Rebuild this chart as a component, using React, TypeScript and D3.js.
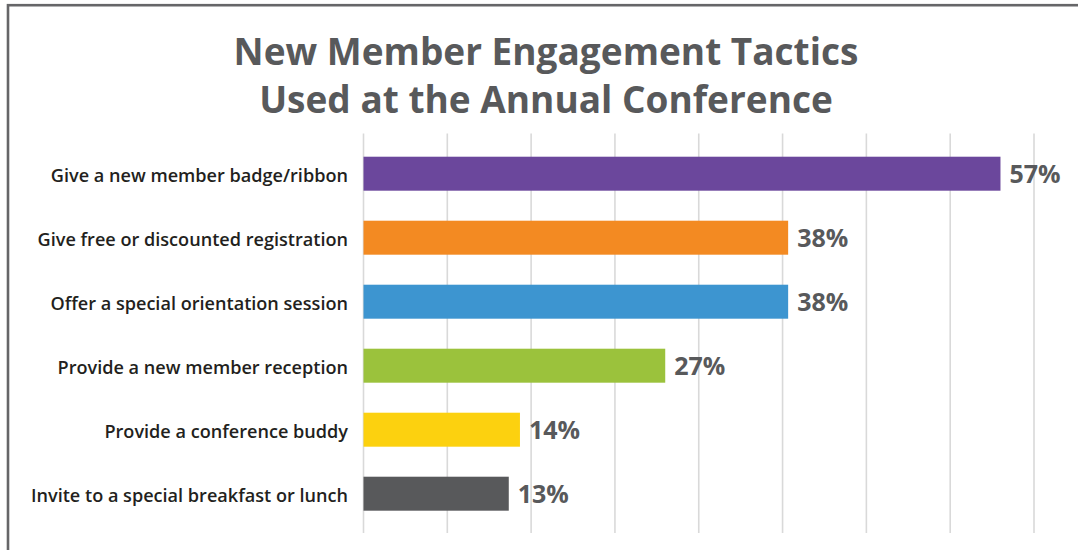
import React from "react";
import * as d3 from "d3";

const categories: string[] = [
  "Give a new member badge/ribbon",
  "Give free or discounted registration",
  "Offer a special orientation session",
  "Provide a new member reception",
  "Provide a conference buddy",
  "Invite to a special breakfast or lunch",
];
const values: number[] = [57, 38, 38, 27, 14, 13];
const barColors: string[] = ["#6b479c", "#f38a22", "#3d95d0", "#9bc23c", "#fcd10f", "#58595b"];
const gridTicks: number[] = [0, 7.5, 15, 22.5, 30, 37.5, 45, 52.5, 60];
const titleLines: string[] = ["New Member Engagement Tactics", "Used at the Annual Conference"];

const W = 1078;
const H = 550;

export default function App() {
  const x = d3.scaleLinear().domain([0, 60]).range([363.5, 1034]);
  const y = d3
    .scaleBand<string>()
    .domain(categories)
    .range([141.7, 525.7])
    .paddingInner(0.469)
    .paddingOuter(0.2345);

  return (
    <svg
      width={W}
      height={H}
      style={{ position: "absolute", left: 0, top: 0, background: "#fff" }}
    >
      <rect x={0} y={0} width={W} height={H} fill="#fff" />
      <rect x={8} y={5.2} width={W + 20} height={H + 20} fill="none" stroke="#666668" strokeWidth={2.6} />
      {titleLines.map((t, i) => (
        <text
          key={t}
          x={546}
          y={65 + i * 48}
          textAnchor="middle"
          fontFamily="'Open Sans', sans-serif"
          fontWeight={700}
          fontSize={37}
          fill="#58595b"
        >
          {t}
        </text>
      ))}
      {gridTicks.map((t) => (
        <line key={t} x1={x(t)} x2={x(t)} y1={133.5} y2={533} stroke="#d9d9d9" strokeWidth={1.6} />
      ))}
      {categories.map((c, i) => (
        <g key={c}>
          <rect x={x(0)} y={y(c)} width={x(values[i]) - x(0)} height={y.bandwidth()} fill={barColors[i]} />
          <text
            x={348}
            y={(y(c) as number) + y.bandwidth() / 2}
            dy="0.45em"
            textAnchor="end"
            fontFamily="'Open Sans', sans-serif"
            fontWeight={600}
            fontSize={18.1}
            fill="#231f20"
          >
            {c}
          </text>
          <text
            x={x(values[i]) + 9}
            y={(y(c) as number) + y.bandwidth() / 2}
            dy="0.36em"
            fontFamily="'Open Sans', sans-serif"
            fontWeight={700}
            fontSize={25}
            fill="#58595b"
          >
            {values[i] + "%"}
          </text>
        </g>
      ))}
    </svg>
  );
}
